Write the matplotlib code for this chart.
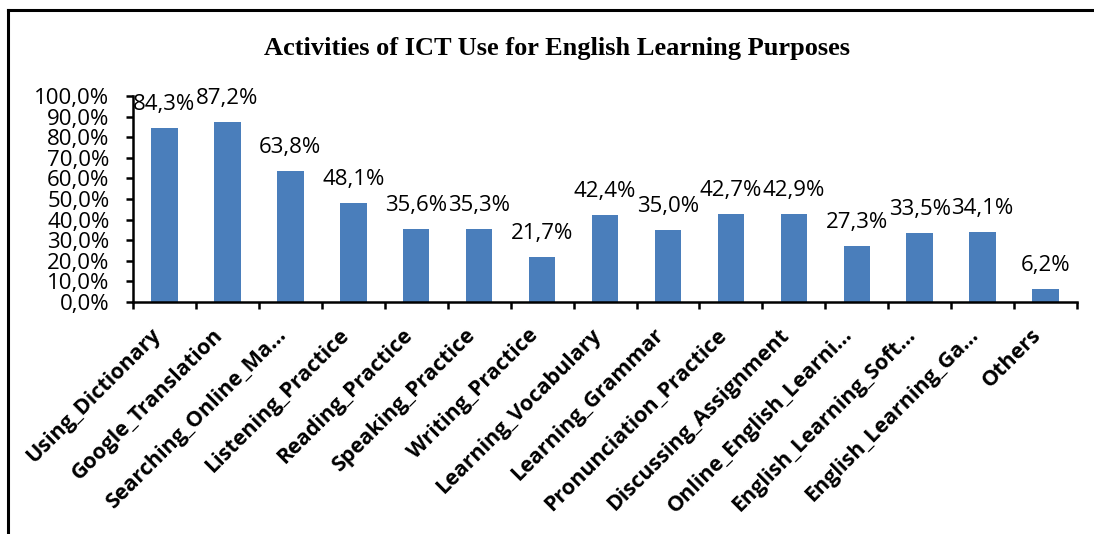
import matplotlib
matplotlib.use('Agg')
import matplotlib.pyplot as plt
from matplotlib.ticker import FuncFormatter, FixedLocator
from matplotlib.lines import Line2D

# data
categories = ['Using_Dictionary', 'Google_Translation', 'Searching_Online_Ma...',
              'Listening_Practice', 'Reading_Practice', 'Speaking_Practice',
              'Writing_Practice', 'Learning_Vocabulary', 'Learning_Grammar',
              'Pronunciation_Practice', 'Discussing_Assignment', 'Online_English_Learni...',
              'English_Learning_Soft...', 'English_Learning_Ga...', 'Others']
values = [84.3, 87.2, 63.8, 48.1, 35.6, 35.3, 21.7, 42.4, 35.0,
          42.7, 42.9, 27.3, 33.5, 34.1, 6.2]
y_ticks = [0, 10, 20, 30, 40, 50, 60, 70, 80, 90, 100]

title = 'Activities of ICT Use for English Learning Purposes'
bar_color = '#4A7EBB'
font = 'Open Sans'


def comma_pct(v, pos=None):
    return f'{v:.1f}%'.replace('.', ',')


fig = plt.figure(figsize=(10.94, 5.34), dpi=100)
ax = fig.add_axes([0.1216, 0.4345, 0.8629, 0.3855])

x = list(range(len(categories)))
ax.bar(x, values, width=0.42, color=bar_color, zorder=2)

# data labels above the bars
for xi, v in zip(x, values):
    ax.annotate(comma_pct(v), xy=(xi, v), xytext=(0, 13), textcoords='offset points',
                ha='center', va='baseline', fontsize=16, family=font, color='black')

ax.set_xlim(-0.5, len(categories) - 0.5)
ax.set_ylim(0, 100)
ax.set_yticks(y_ticks)
ax.yaxis.set_major_formatter(FuncFormatter(comma_pct))

# category labels on major ticks (hidden), tick marks at the boundaries
ax.set_xticks(x)
ax.set_xticklabels(categories, rotation=45, ha='right', va='bottom',
                   rotation_mode='anchor', fontsize=15.5, fontweight='bold', family=font)
ax.xaxis.set_minor_locator(FixedLocator([i - 0.5 for i in range(len(categories) + 1)]))
ax.tick_params(axis='x', which='major', length=0, pad=27)
ax.tick_params(axis='x', which='minor', length=5, width=1.8, direction='out')
ax.tick_params(axis='y', length=5, width=1.8, direction='out', pad=12, labelsize=16)
for lab in ax.get_yticklabels():
    lab.set_family(font)

for side in ['top', 'right']:
    ax.spines[side].set_visible(False)
for side in ['left', 'bottom']:
    ax.spines[side].set_linewidth(1.8)

fig.text(0.509, 0.91, title, ha='center', va='center', fontsize=19,
         fontweight='bold', family='Liberation Serif')

# frame around the chart (top and left edges visible)
fig.add_artist(Line2D([0.0075, 1.0], [0.981, 0.981], color='black', lw=2.2,
                      transform=fig.transFigure))
fig.add_artist(Line2D([0.0075, 0.0075], [0.0, 0.981], color='black', lw=2.2,
                      transform=fig.transFigure))

fig.savefig('out.png', dpi=100)
